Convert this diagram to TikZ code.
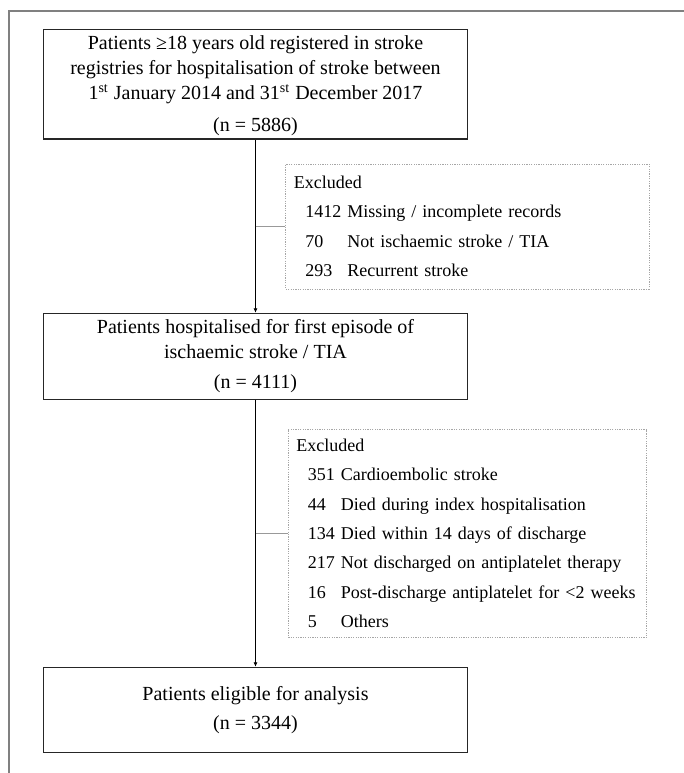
\documentclass[tikz,border=0pt]{standalone}
\usepackage{fontspec}
\setmainfont{Liberation Serif}
\usetikzlibrary{arrows.meta}

\begin{document}
\begin{tikzpicture}[x=0.5pt,y=-0.5pt,>={Latex[length=2.2pt,width=2pt]},
  stage/.style={draw=black!85,line width=0.6pt,minimum width=211.8pt,inner sep=0pt,align=center,font=\fontsize{10}{12.6}\selectfont},
  excl/.style={draw=black!35,line width=0.4pt,dash pattern=on 0.6pt off 0.6pt,inner xsep=4pt,inner ysep=0pt,font=\fontsize{9}{14.7}\selectfont},
  branch/.style={draw=black!40,line width=0.4pt}]
\useasboundingbox (0,0) rectangle (684,773);
\draw[black!50,line width=0.9pt] (9,773) -- (9,11) -- (684,11);

\node[stage,minimum height=54.7pt] (reg) at (255.5,84.3) {\rule{0pt}{8.2pt}Patients ≥18 years old registered in stroke\\ registries for hospitalisation of stroke between\\ 1\textsuperscript{st} January 2014 and 31\textsuperscript{st} December 2017\\[3.2pt] (n = 5886)};
\node[excl,text width=173.6pt,minimum height=62.5pt] (exA) at (467.4,226.5) {\begin{tabular}{@{\hspace{5.75pt}}l@{\ }l@{}}
\multicolumn{2}{@{}l@{}}{Excluded}\\
1412 & Missing / incomplete records\\
70 & Not ischaemic stroke / TIA\\
293 & Recurrent stroke
\end{tabular}};
\node[stage,minimum height=42.9pt] (first) at (255.5,356.2) {Patients hospitalised for first episode of\\ ischaemic stroke / TIA\\[2.5pt] (n = 4111)};
\node[excl,text width=171.2pt,minimum height=104.1pt] (exB) at (467.5,533.6) {\begin{tabular}{@{\hspace{5.75pt}}l@{\ }l@{}}
\multicolumn{2}{@{}l@{}}{Excluded}\\
351 & Cardioembolic stroke\\
44 & Died during index hospitalisation\\
134 & Died within 14 days of discharge\\
217 & Not discharged on antiplatelet therapy\\
16 & Post-discharge antiplatelet for <2 weeks\\
5 & Others
\end{tabular}};
\node[stage,minimum height=42.7pt] (elig) at (255.5,710) {Patients eligible for analysis\\[2.2pt] (n = 3344)};

\draw[->,line width=0.4pt] (reg) -- (first);
\draw[->,line width=0.4pt] (first) -- (elig);
\coordinate (jA) at (reg.south |- exA.west);
\coordinate (jB) at (first.south |- exB.west);
\draw[branch] (jA) -- (exA.west);
\draw[branch] (jB) -- (exB.west);
\end{tikzpicture}
\end{document}
